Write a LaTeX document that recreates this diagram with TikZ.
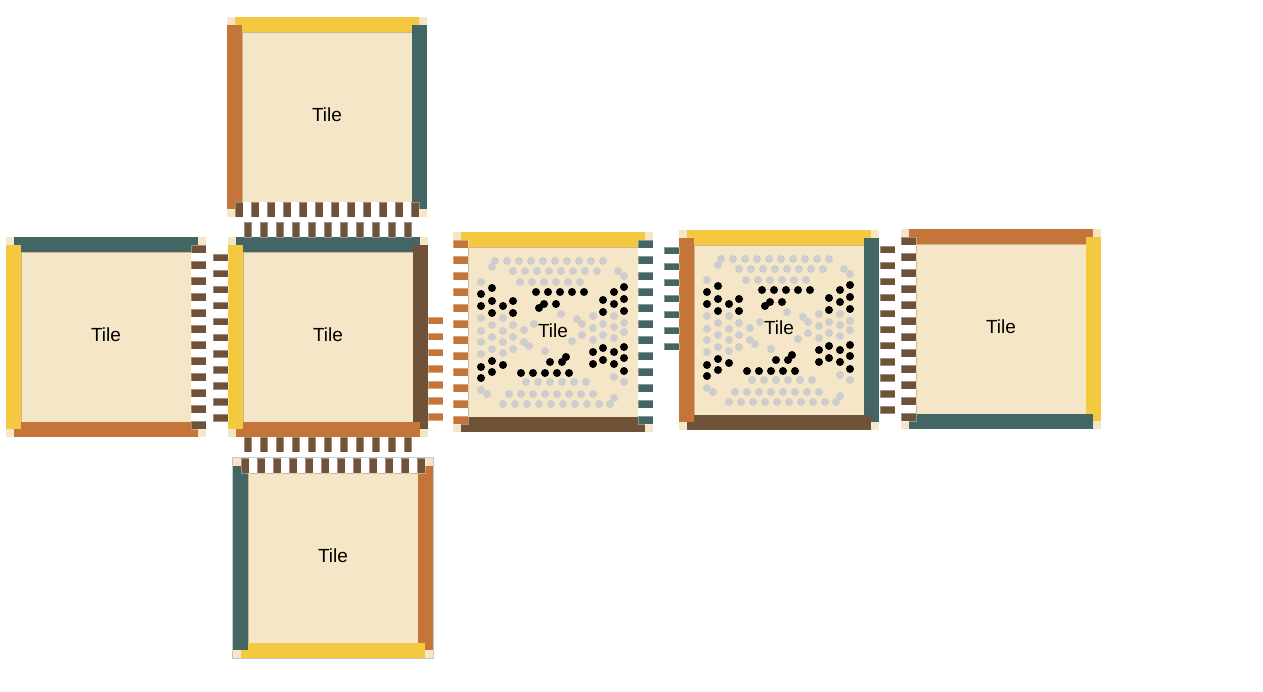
\documentclass[tikz,border=0pt]{standalone}
\usepackage{fontspec}
\setmainfont{Liberation Sans}
\definecolor{cream}{HTML}{F6E6C8}
\definecolor{sun}{HTML}{F5C93F}
\definecolor{rust}{HTML}{C3753A}
\definecolor{slate}{HTML}{436665}
\definecolor{bark}{HTML}{6F5339}
\definecolor{rim}{HTML}{CDB58F}
\definecolor{ball}{HTML}{CDCDCD}
\definecolor{frame}{HTML}{C8C8C8}
% ball pattern of the two dotted tiles, offsets from the centre
\newcommand{\graydots}{-58/-71, -46/-71, -34/-71, -22/-71, -10/-71, 2/-71, 14/-71, 26/-71, 38/-71, 50/-71,
	-61/-65, -40/-61, -28/-61, -16/-61, -4/-61, 8/-61, 20/-61, 32/-61, 44/-61, 65/-61, 71/-56,
	-72/-50, -33/-50, -21/-50, -9/-50, 3/-50, 15/-50, 27/-50,
	8/-18, -72/-14, -50/-14, 40/-16, 61/-16, 24/-13, 29/-8,
	-61/-7, -40/-7, -19/-8, 50/-8, 71/-9, 61/-5,
	-72/-1, -50/-1, -29/-2, 40/-4, 71/0,
	-61/5, -40/5, 29/3, 50/3, 61/6,
	-72/10, -50/10, -29/10, -24/14, 19/9, 40/8,
	-61/17, -40/17, -8/19, -72/22, -50/21,
	61/45, 71/50, -27/50, -15/50, -3/50, 9/50, 21/50, 33/50,
	-72/58, -66/62, -44/62, -32/62, -20/62, -8/62, 4/62, 16/62, 28/62, 40/62, 61/66,
	-50/72, -38/72, -26/72, -14/72, -2/72, 10/72, 22/72, 34/72, 46/72, 57/72}
\newcommand{\blackdots}{-61/-44, -72/-38, -61/-31, -40/-31, -72/-26, -50/-26, -61/-19, -40/-19,
	-17/-40, -5/-40, 7/-40, 19/-40, 31/-40, -9/-28, -14/-24, 3/-28,
	71/-45, 61/-40, 71/-33, 50/-32, 61/-28, 50/-20, 71/-21,
	50/16, 71/15, 40/20, 61/20, 71/26, 50/28, 40/32, 61/32, 71/39,
	13/25, 9/30, -3/30, -32/41, -20/41, -8/41, 4/41, 16/41,
	-61/29, -50/33, -72/35, -61/40, -72/46}

\begin{document}
\begin{tikzpicture}[x=1pt,y=-1pt]
	\tikzstyle{lead} = [draw=white,draw opacity=.35,line width=.6pt]
	\tikzstyle{tiletext} = [font=\fontsize{19}{22}\selectfont,inner sep=0pt]
	\useasboundingbox (0,0) rectangle (1263,692);
	% tiles: x/y/top/right/bottom/left
	\foreach \x/\y/\ctop/\cright/\cbottom/\cleft in {106/337/slate/white/rust/sun, 327/117/sun/slate/white/rust,
		328/337/slate/bark/rust/sun, 333/558/white/rust/sun/slate, 553/332/sun/white/bark/white,
		779/330/sun/slate/bark/rust, 1001/329/rust/sun/slate/white} {
		\begin{scope}[shift={(\x,\y)}]
			\fill[cream] (-100,-100) rectangle (100,100);
			\draw[rim,line width=.8pt] (-85,-85) rectangle (85,85);
			\fill[\ctop] (-92,-100) rectangle (92,-85);
			\fill[\cright] (85,-92) rectangle (100,92);
			\fill[\cbottom] (-92,85) rectangle (92,100);
			\fill[\cleft] (-100,-92) rectangle (-85,92);
		\end{scope}
	}
	% pins inside the tiles
	\foreach \x/\y/\c in {191/245/bark, 453/240/rust, 638/240/slate, 901/237/bark}
		\foreach \i in {0,...,11}
			\fill[\c,lead] (\x,\y+16*\i) rectangle ++(15,8);
	\foreach \x/\y in {235/202, 241/458}
		\foreach \i in {0,...,11}
			\fill[bark,lead] (\x+16*\i,\y) rectangle ++(8,15);
	% pins between the tiles
	\foreach \x/\y/\n/\c in {213/254/10/bark, 428/317/6/rust, 664/247/6/slate, 880/246/10/bark}
		\foreach \i in {0,...,\n}
			\fill[\c,lead] (\x,\y+16*\i) rectangle ++(15,7.5);
	\foreach \y in {222,437}
		\foreach \i in {0,...,10}
			\fill[bark,lead] (244+16*\i,\y) rectangle ++(7.5,15);
	% balls
	\foreach \x/\y in {553/332, 779/330} {
		\foreach \dx/\dy in \graydots
			\fill[ball] (\x+\dx,\y+\dy) circle (4pt);
		\foreach \dx/\dy in \blackdots
			\fill (\x+\dx,\y+\dy) circle (4pt);
	}
	% selected tile
	\draw[frame,line width=1.5pt] (232.5,457.5) rectangle (433.5,658.5);
	% labels
	\foreach \n/\x/\y in {L/106/335, T/327/115, C/328/335, B/333/556, M1/553/331, M2/779/328, R/1001/327}
		\node[tiletext] (tile\n) at (\x,\y) {Tile};
\end{tikzpicture}
\end{document}
